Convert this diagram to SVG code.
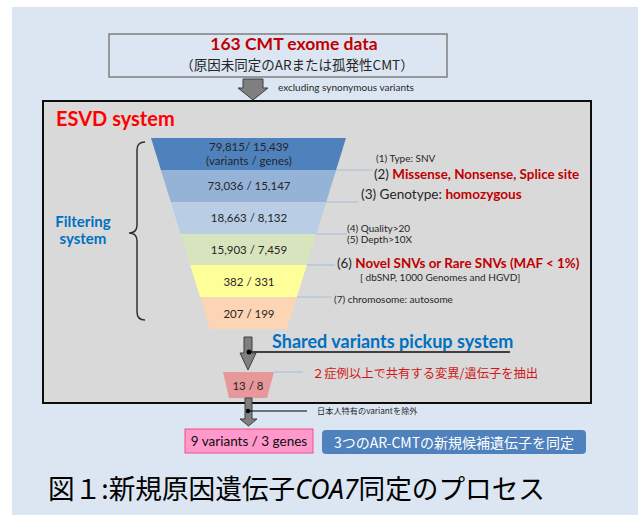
<svg xmlns="http://www.w3.org/2000/svg" width="638" height="515" viewBox="0 0 638 515">
<defs>
<style>
.lat{font-family:Lato,"Liberation Sans","Noto Sans CJK JP",sans-serif}
.jp{font-family:"Noto Sans CJK JP","Noto Sans",sans-serif}
.num{font-size:11.5px;fill:#262626;text-anchor:middle}
.sm{font-size:10px;fill:#262626}
.red{fill:#c00000;font-weight:bold}
.blk{fill:#262626}
.blue{fill:#0070c0;font-weight:bold}
.lead{stroke:#a9c0dc;stroke-width:1.2;fill:none}
.arrow{fill:#7f7f7f;stroke:#3f3f3f;stroke-width:1}
</style>
</defs>
<rect x="12" y="7" width="626" height="508" fill="#dce6f2"/>

<g id="input">
<rect x="109" y="34" width="338" height="43" fill="#dce6f2" stroke="#7f7f7f" stroke-width="1.5"/>
<text class="lat red" x="294" y="50" font-size="17.5" text-anchor="middle">163 CMT exome data</text>
<text class="jp blk" x="297" y="70" font-size="13.5" text-anchor="middle">（原因未同定のARまたは孤発性CMT）</text>
</g>

<g id="esvd">
<rect x="43" y="101" width="548" height="302" fill="#d9d9d9" stroke="#0d0d0d" stroke-width="2"/>
<text class="lat" x="56" y="126" font-size="20" font-weight="bold" fill="#ff0000">ESVD system</text>
</g>

<g id="filtering-label">
<text class="lat blue" x="83" y="227" font-size="15" text-anchor="middle">Filtering</text>
<text class="lat blue" x="83" y="244" font-size="15" text-anchor="middle">system</text>
<path d="M145,142 Q137,142 137,150 L137,225 Q137,233 129,233 Q137,233 137,241 L137,312 Q137,320 145,320" fill="none" stroke="#333" stroke-width="1.5"/>
</g>

<g id="funnel">
<polygon points="151,138 346,138 336.1,170 160.9,170" fill="#4f81bd"/>
<polygon points="160.9,170 336.1,170 326.2,202 170.8,202" fill="#95b3d7"/>
<polygon points="170.8,202 326.2,202 316.3,234 180.7,234" fill="#b9cde5"/>
<polygon points="180.7,234 316.3,234 306.8,265 190.2,265" fill="#d7e4bd"/>
<polygon points="190.2,265 306.8,265 296.9,297 200.1,297" fill="#ffff99"/>
<polygon points="200.1,297 296.9,297 287,329 210,329" fill="#fcd5b5"/>
<text class="lat num" x="249" y="151">79,815/ 15,439</text>
<text class="lat num" x="249" y="165">(variants / genes)</text>
<text class="lat num" x="249" y="190">73,036 / 15,147</text>
<text class="lat num" x="249" y="222">18,663 / 8,132</text>
<text class="lat num" x="249" y="254">15,903 / 7,459</text>
<text class="lat num" x="249" y="286">382 / 331</text>
<text class="lat num" x="249" y="318">207 / 199</text>
</g>

<g id="criteria">
<text class="lat sm" x="376" y="162">(1) Type: SNV</text>
<text class="lat" x="374" y="179" font-size="13.4"><tspan class="blk">(2) </tspan><tspan class="red">Missense, Nonsense, Splice site</tspan></text>
<text class="lat" x="361" y="199" font-size="13.6"><tspan class="blk">(3) Genotype: </tspan><tspan class="red">homozygous</tspan></text>
<text class="lat sm" x="347" y="232">(4) Quality&gt;20</text>
<text class="lat sm" x="347" y="242.5">(5) Depth&gt;10X</text>
<text class="lat" x="337" y="268" font-size="13.4"><tspan class="blk">(6) </tspan><tspan class="red">Novel SNVs or Rare SNVs (MAF &lt; 1%)</tspan></text>
<text class="lat sm" x="360" y="280.5" font-size="10.2">[ dbSNP, 1000 Genomes and HGVD]</text>
<text class="lat sm" x="334" y="303" font-size="10.8">(7) chromosome: autosome</text>
</g>

<g id="shared">
<text class="lat blue" x="272" y="348" font-size="18">Shared variants pickup system</text>
<polygon points="223,372 274,372 267,398 229,398" fill="#e6989a"/>
<text class="lat num" x="248" y="390">13 / 8</text>
<text class="jp" x="312" y="378" font-size="12.3" fill="#d01818">２症例以上で共有する変異/遺伝子を抽出</text>
</g>

<g id="exclude-label">
<text class="jp blk" x="317" y="414" font-size="8.2">日本人特有のvariantを除外</text>
</g>

<g id="result">
<rect x="185" y="429" width="128" height="24" fill="#ff99cc" stroke="#f0507f" stroke-width="1"/>
<text class="lat" x="249" y="446" font-size="13.5" fill="#0d0d0d" text-anchor="middle">9 variants / 3 genes</text>
</g>

<g id="conclusion">
<rect x="322" y="430" width="264" height="24" rx="4" fill="#4f81bd"/>
<text class="jp" x="454" y="447.5" font-size="14" fill="#ffffff" text-anchor="middle">3つのAR-CMTの新規候補遺伝子を同定</text>
</g>

<g id="caption">
<text class="jp" x="48" y="499" font-size="27" fill="#000" textLength="497" lengthAdjust="spacingAndGlyphs">図１:新規原因遺伝子<tspan font-family="'Noto Sans',sans-serif" font-style="italic">COA7</tspan>同定のプロセス</text>
</g>

<g id="connectors">
<polygon class="arrow" points="243,79 263,79 263,88 268,88 253,100 238,88 243,88"/>
<text class="lat" x="278" y="91" font-size="10" fill="#262626">excluding synonymous variants</text>
<line class="lead" x1="336" y1="170" x2="373" y2="170"/>
<line class="lead" x1="326" y1="202" x2="358" y2="202"/>
<line class="lead" x1="316" y1="234" x2="347" y2="234"/>
<line class="lead" x1="307" y1="265" x2="335" y2="265"/>
<line class="lead" x1="297" y1="297" x2="332" y2="297"/>
<line class="lead" x1="274" y1="372" x2="303" y2="372"/>
<polygon class="arrow" points="244,337 252,337 252,353 256,353 248,370 240,353 244,353"/>
<line x1="249" y1="352" x2="510" y2="352" stroke="#404040" stroke-width="2"/>
<circle cx="249" cy="352" r="2.5" fill="#000"/>
<polygon class="arrow" points="245,398 252,398 252,419 257,419 248.5,426 240,419 245,419"/>
<line x1="248" y1="411" x2="307" y2="411" stroke="#000" stroke-width="1.2"/>
<circle cx="248" cy="411" r="2.2" fill="#000"/>
</g>
</svg>
